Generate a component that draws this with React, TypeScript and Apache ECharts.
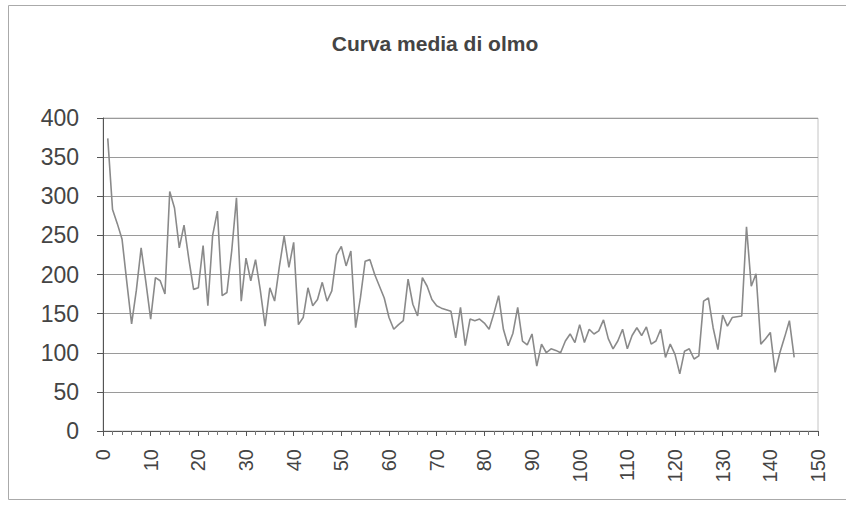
import React, { useEffect, useRef } from "react";
import * as echarts from "echarts";

const TITLE = "Curva media di olmo";
const X_START = 1;
const VALUES: number[] = [
  374, 283, 265, 245, 190, 137, 180, 234, 190, 143,
  196, 192, 175, 306, 285, 234, 263, 220, 181, 183,
  237, 160, 250, 281, 173, 177, 230, 298, 166, 221,
  192, 219, 180, 134, 183, 166, 210, 249, 209, 241,
  136, 145, 183, 160, 168, 190, 166, 179, 225, 236,
  211, 230, 132, 170, 217, 219, 200, 185, 170, 145,
  130, 136, 141, 194, 162, 147, 196, 185, 168, 160,
  157, 155, 153, 119, 158, 109, 143, 141, 143, 138,
  130, 150, 173, 130, 109, 125, 158, 115, 110, 124,
  83, 111, 100, 105, 103, 100, 115, 124, 113, 136,
  113, 130, 124, 128, 142, 118, 105, 115, 130, 105,
  122, 132, 122, 133, 111, 115, 130, 94, 111, 98,
  73, 102, 105, 92, 96, 166, 170, 132, 104, 148,
  134, 145, 146, 147, 261, 185, 201, 111, 118, 126,
  75, 100, 120, 141, 94,
];
const X_MIN = 0;
const X_MAX = 150;
const X_STEP = 10;
const Y_MIN = 0;
const Y_MAX = 400;
const Y_STEP = 50;

export default function App() {
  const ref = useRef<HTMLDivElement>(null);
  useEffect(() => {
    if (!ref.current) return;
    const chart = echarts.init(ref.current, null, { renderer: "svg" });
    const data = VALUES.map((v, i) => [X_START + i, v]);
    const font = "'Liberation Sans', Arial, sans-serif";
    chart.setOption({
      animation: false,
      backgroundColor: "#ffffff",
      title: {
        text: TITLE,
        left: 430,
        textAlign: "center",
        top: 28,
        textStyle: { fontFamily: font, fontSize: 21, fontWeight: "bold", color: "#444" },
      },
      graphic: [
        {
          type: "rect",
          shape: { x: 8.5, y: 5.5, width: 845, height: 494 },
          style: { fill: "none", stroke: "#aaa", lineWidth: 1 },
          silent: true,
        },
      ],
      grid: {
        left: 103,
        right: 28,
        top: 118,
        bottom: 80,
        show: true,
        borderColor: "#c4c4c4",
        borderWidth: 1,
      },
      xAxis: {
        type: "value",
        min: X_MIN,
        max: X_MAX,
        interval: X_STEP,
        splitLine: { show: false },
        axisLine: { show: true, onZero: false, lineStyle: { color: "#555", width: 1 } },
        axisTick: { show: true, length: 5, lineStyle: { color: "#555" } },
        minorTick: { show: true, splitNumber: 5, length: 4, lineStyle: { color: "#777" } },
        axisLabel: {
          rotate: 90,
          margin: 18,
          showMinLabel: true,
          showMaxLabel: true,
          hideOverlap: false,
          fontFamily: font,
          fontSize: 20,
          color: "#444",
        },
      },
      yAxis: {
        type: "value",
        min: Y_MIN,
        max: Y_MAX,
        interval: Y_STEP,
        splitLine: { show: true, lineStyle: { color: "#9a9a9a", width: 1 } },
        axisLine: { show: true, lineStyle: { color: "#555", width: 1 } },
        axisTick: { show: true, length: 6, lineStyle: { color: "#555" } },
        axisLabel: {
          margin: 24,
          fontFamily: font,
          fontSize: 23,
          color: "#444",
        },
      },
      series: [
        {
          type: "line",
          data,
          showSymbol: false,
          symbol: "none",
          lineStyle: { color: "#8a8a8a", width: 1.6 },
        },
      ],
    });
    return () => chart.dispose();
  }, []);
  return (
    <div
      ref={ref}
      style={{ position: "fixed", left: 0, top: 0, width: 846, height: 511 }}
    />
  );
}
